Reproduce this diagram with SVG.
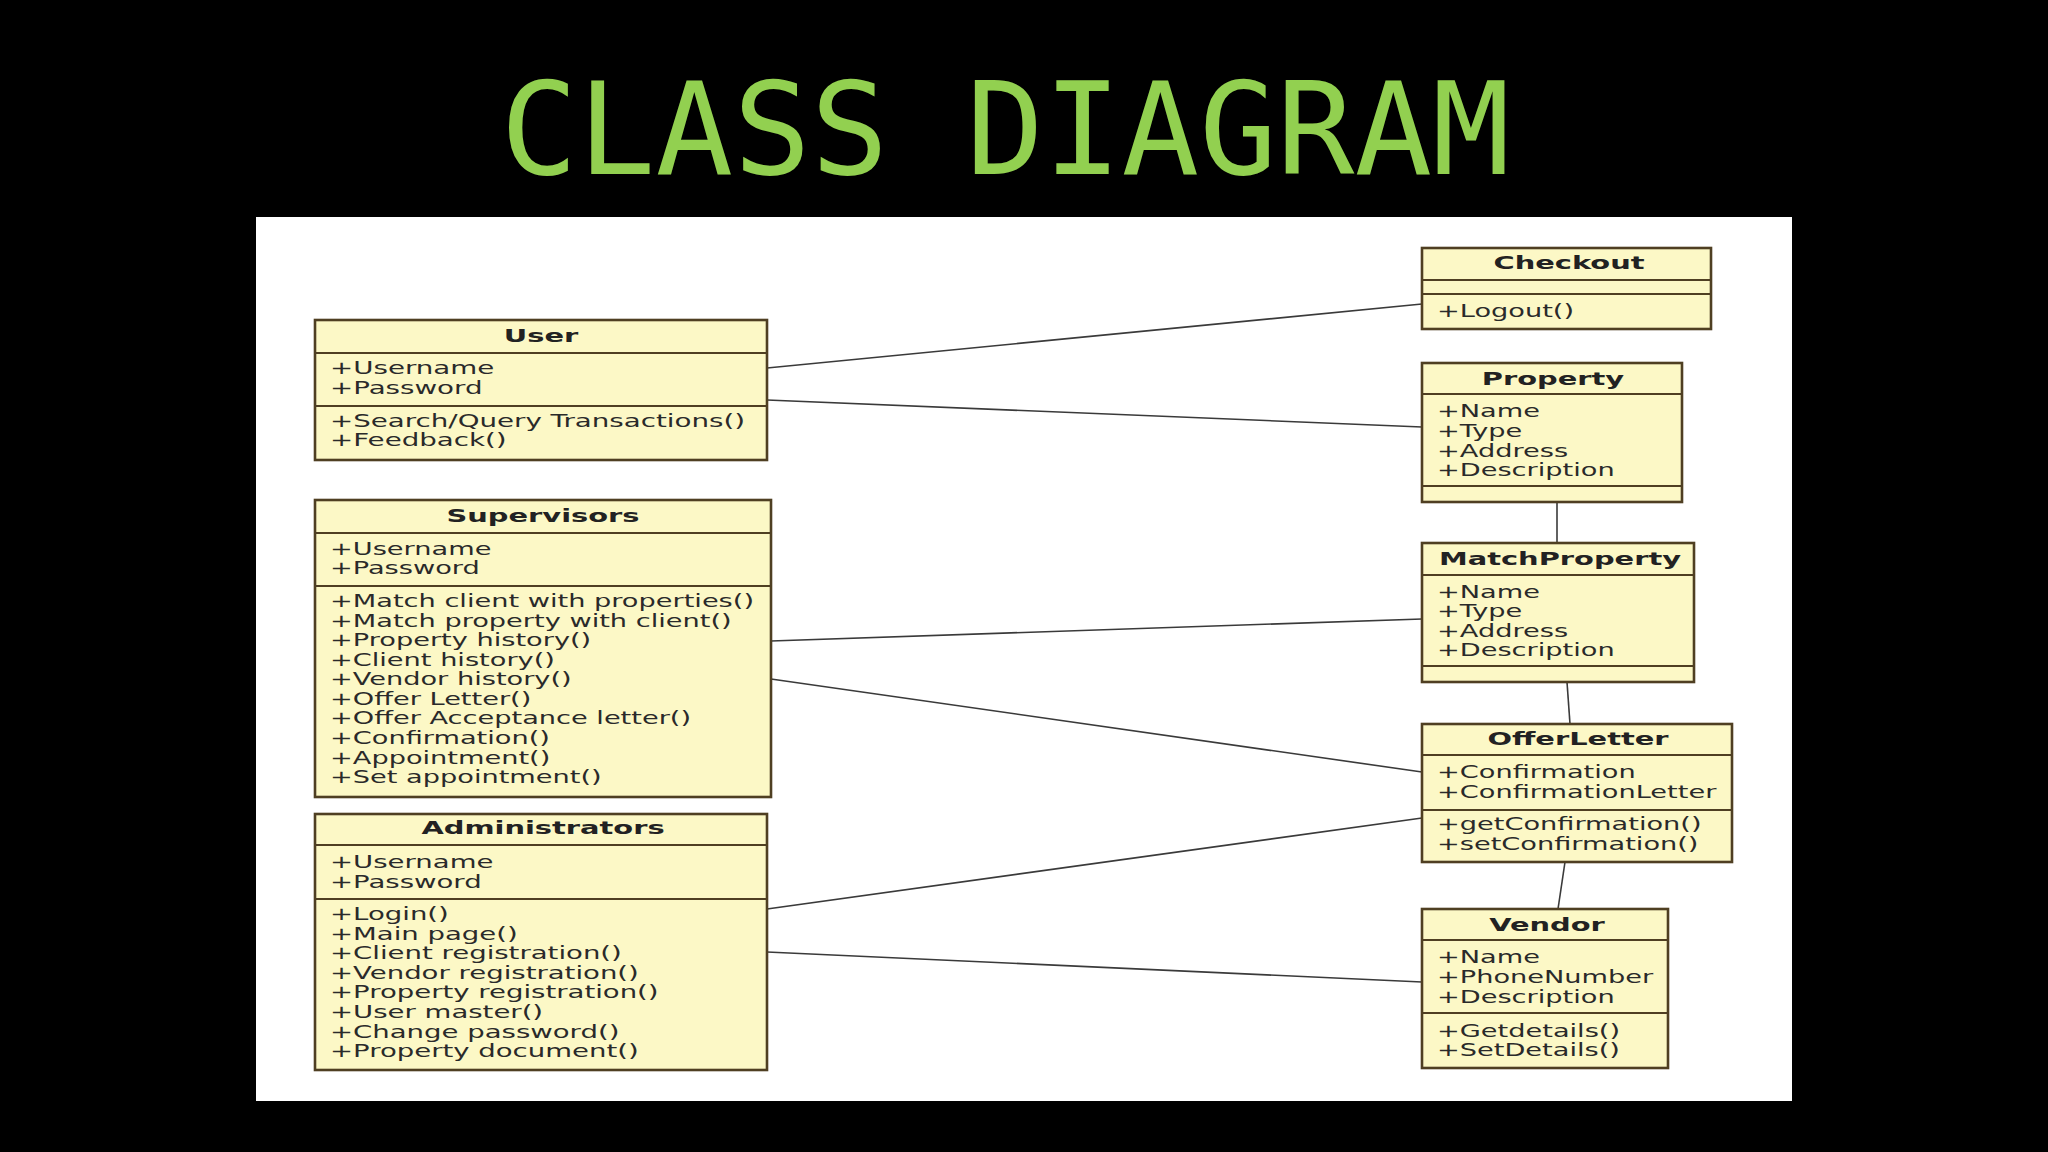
<svg xmlns="http://www.w3.org/2000/svg" width="2048" height="1152" viewBox="0 0 2048 1152">
<style>
.box{fill:#FCF8C6;stroke:#4F3F22;stroke-width:2.6}
.sep{stroke:#4F3F22;stroke-width:2.2}
.t{font-family:"DejaVu Sans",Verdana,sans-serif;font-size:17px;font-weight:bold;fill:#222;text-anchor:middle}
.a{font-family:"DejaVu Sans",Verdana,sans-serif;font-size:17px;fill:#2a2a2a}
.c{stroke:#3a3a3a;stroke-width:1.6;fill:none}
</style>
<rect x="0" y="0" width="2048" height="1152" fill="#000"/>
<text x="1005" y="174" font-family="'DejaVu Sans Mono','Liberation Mono',monospace" font-size="129" fill="#92D050" text-anchor="middle">CLASS DIAGRAM</text>
<rect x="256" y="217" width="1536" height="884" fill="#FFFFFF"/>

<g id="connectors">
<line class="c" x1="767" y1="368" x2="1422" y2="304"/>
<line class="c" x1="767" y1="400" x2="1422" y2="427"/>
<line class="c" x1="1557" y1="501" x2="1557" y2="543"/>
<line class="c" x1="771" y1="641" x2="1422" y2="619"/>
<line class="c" x1="771" y1="679" x2="1422" y2="772"/>
<line class="c" x1="1567" y1="682" x2="1570" y2="724"/>
<line class="c" x1="767" y1="909" x2="1422" y2="818"/>
<line class="c" x1="767" y1="952" x2="1422" y2="982"/>
<line class="c" x1="1565" y1="862" x2="1558" y2="909"/>
</g>

<g id="user">
<rect class="box" x="315" y="320" width="452" height="140"/>
<line class="sep" x1="315" y1="353" x2="767" y2="353"/>
<line class="sep" x1="315" y1="406" x2="767" y2="406"/>
<text class="t" transform="translate(541,342) scale(1.7,1)">User</text>
<g transform="translate(330,0) scale(1.63,1)">
<text class="a" y="374">+Username</text>
<text class="a" y="394">+Password</text>
<text class="a" y="427">+Search/Query Transactions()</text>
<text class="a" y="446">+Feedback()</text>
</g>
</g>

<g id="supervisors">
<rect class="box" x="315" y="500" width="456" height="297"/>
<line class="sep" x1="315" y1="533" x2="771" y2="533"/>
<line class="sep" x1="315" y1="586" x2="771" y2="586"/>
<text class="t" transform="translate(543,522) scale(1.7,1)">Supervisors</text>
<g transform="translate(330,0) scale(1.6,1)">
<text class="a" y="555">+Username</text>
<text class="a" y="574">+Password</text>
<text class="a" y="607">+Match client with properties()</text>
<text class="a" y="627">+Match property with client()</text>
<text class="a" y="646">+Property history()</text>
<text class="a" y="666">+Client history()</text>
<text class="a" y="685">+Vendor history()</text>
<text class="a" y="705">+Offer Letter()</text>
<text class="a" y="724">+Offer Acceptance letter()</text>
<text class="a" y="744">+Confirmation()</text>
<text class="a" y="764">+Appointment()</text>
<text class="a" y="783">+Set appointment()</text>
</g>
</g>

<g id="administrators">
<rect class="box" x="315" y="814" width="452" height="256"/>
<line class="sep" x1="315" y1="845" x2="767" y2="845"/>
<line class="sep" x1="315" y1="899" x2="767" y2="899"/>
<text class="t" transform="translate(543,834) scale(1.7,1)">Administrators</text>
<g transform="translate(330,0) scale(1.62,1)">
<text class="a" y="868">+Username</text>
<text class="a" y="888">+Password</text>
<text class="a" y="920">+Login()</text>
<text class="a" y="940">+Main page()</text>
<text class="a" y="959">+Client registration()</text>
<text class="a" y="979">+Vendor registration()</text>
<text class="a" y="998">+Property registration()</text>
<text class="a" y="1018">+User master()</text>
<text class="a" y="1038">+Change password()</text>
<text class="a" y="1057">+Property document()</text>
</g>
</g>

<g id="checkout">
<rect class="box" x="1422" y="248" width="289" height="81"/>
<line class="sep" x1="1422" y1="280" x2="1711" y2="280"/>
<line class="sep" x1="1422" y1="294" x2="1711" y2="294"/>
<text class="t" transform="translate(1569,269) scale(1.7,1)">Checkout</text>
<g transform="translate(1437,0) scale(1.6,1)">
<text class="a" y="317">+Logout()</text>
</g>
</g>

<g id="property">
<rect class="box" x="1422" y="363" width="260" height="139"/>
<line class="sep" x1="1422" y1="394" x2="1682" y2="394"/>
<line class="sep" x1="1422" y1="486" x2="1682" y2="486"/>
<text class="t" transform="translate(1553,385) scale(1.7,1)">Property</text>
<g transform="translate(1437,0) scale(1.6,1)">
<text class="a" y="417">+Name</text>
<text class="a" y="437">+Type</text>
<text class="a" y="457">+Address</text>
<text class="a" y="476">+Description</text>
</g>
</g>

<g id="matchproperty">
<rect class="box" x="1422" y="543" width="272" height="139"/>
<line class="sep" x1="1422" y1="575" x2="1694" y2="575"/>
<line class="sep" x1="1422" y1="666" x2="1694" y2="666"/>
<text class="t" transform="translate(1560,565) scale(1.7,1)">MatchProperty</text>
<g transform="translate(1437,0) scale(1.6,1)">
<text class="a" y="598">+Name</text>
<text class="a" y="617">+Type</text>
<text class="a" y="637">+Address</text>
<text class="a" y="656">+Description</text>
</g>
</g>

<g id="offerletter">
<rect class="box" x="1422" y="724" width="310" height="138"/>
<line class="sep" x1="1422" y1="755" x2="1732" y2="755"/>
<line class="sep" x1="1422" y1="810" x2="1732" y2="810"/>
<text class="t" transform="translate(1578,745) scale(1.7,1)">OfferLetter</text>
<g transform="translate(1437,0) scale(1.6,1)">
<text class="a" y="778">+Confirmation</text>
<text class="a" y="798">+ConfirmationLetter</text>
<text class="a" y="830">+getConfirmation()</text>
<text class="a" y="850">+setConfirmation()</text>
</g>
</g>

<g id="vendor">
<rect class="box" x="1422" y="909" width="246" height="159"/>
<line class="sep" x1="1422" y1="940" x2="1668" y2="940"/>
<line class="sep" x1="1422" y1="1013" x2="1668" y2="1013"/>
<text class="t" transform="translate(1547,931) scale(1.7,1)">Vendor</text>
<g transform="translate(1437,0) scale(1.6,1)">
<text class="a" y="963">+Name</text>
<text class="a" y="983">+PhoneNumber</text>
<text class="a" y="1003">+Description</text>
<text class="a" y="1037">+Getdetails()</text>
<text class="a" y="1056">+SetDetails()</text>
</g>
</g>
</svg>
